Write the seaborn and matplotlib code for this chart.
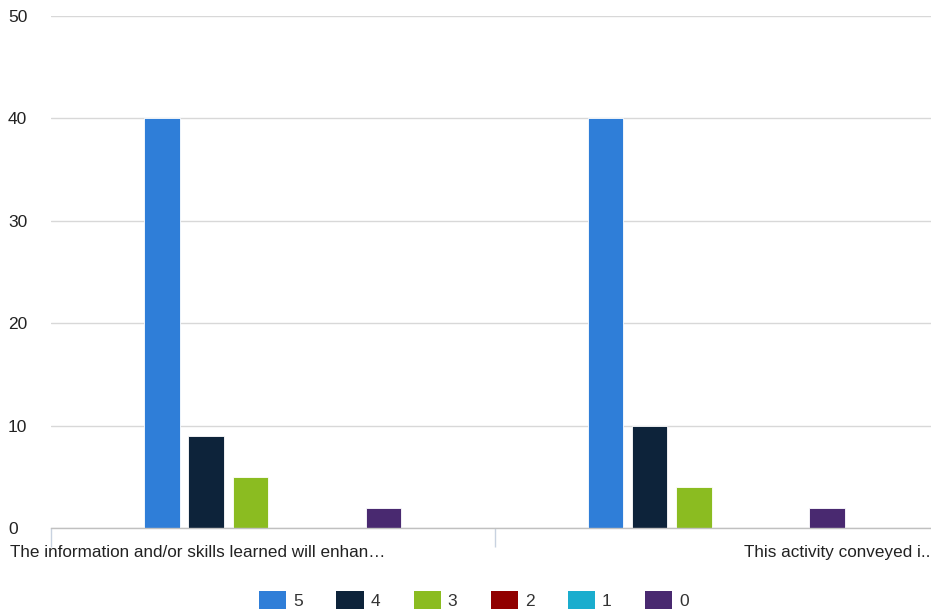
import matplotlib
matplotlib.use("Agg")
import matplotlib.pyplot as plt
import seaborn as sns
import pandas as pd
from matplotlib.patches import Patch

# Survey responses per rating score for each statement
categories = [
    "The information and/or skills learned will enhan\u2026",
    "This activity conveyed i..",
]
scores = ["5", "4", "3", "2", "1", "0"]
counts_q1 = [40, 9, 5, 0, 0, 2]
counts_q2 = [40, 10, 4, 0, 0, 2]
palette = ["#2f7ed8", "#0d233a", "#8bbc21", "#910000", "#1aadce", "#492970"]
y_ticks = [0, 10, 20, 30, 40, 50]

rows = []
for cat, vals in zip(categories, [counts_q1, counts_q2]):
    for s, v in zip(scores, vals):
        rows.append({"question": cat, "score": s, "count": v})
df = pd.DataFrame(rows)

sns.set_theme(style="white")
plt.rcParams["font.family"] = ["Liberation Sans", "DejaVu Sans"]

W, H = 931, 612
fig = plt.figure(figsize=(W / 100, H / 100), dpi=100)
# plot area runs slightly past the right edge of the canvas
ax_left, ax_right, ax_top, ax_bottom = 51, 938, 16, 528
ax = fig.add_axes([ax_left / W, 1 - ax_bottom / H,
                   (ax_right - ax_left) / W, (ax_bottom - ax_top) / H])

sns.barplot(
    data=df, x="question", y="count", hue="score",
    hue_order=scores, order=categories, palette=palette, saturation=1,
    width=0.6, gap=0.2, errorbar=None, edgecolor="white", linewidth=0.6,
    legend=False, ax=ax,
)

ax.set_xlim(-0.5, 1.5)
ax.set_ylim(0, 50)
ax.set_yticks(y_ticks)
ax.set_yticklabels([str(t) for t in y_ticks])
ax.yaxis.grid(True, color="#d8d8d8", linewidth=1)
ax.set_axisbelow(True)
for sp in ["top", "right", "left"]:
    ax.spines[sp].set_visible(False)
ax.spines["bottom"].set_color("#c0c0c0")
ax.spines["bottom"].set_linewidth(1)
ax.set_xlabel("")
ax.set_ylabel("")

# y tick labels, left aligned near the figure edge
ax.tick_params(axis="y", length=0, labelsize=12.5, labelcolor="#222222", pad=0)
for lab in ax.get_yticklabels():
    lab.set_horizontalalignment("left")
    lab.set_x(-(ax_left - 8) / (ax_right - ax_left))

# category boundary ticks
ax.set_xticks([-0.5, 0.5, 1.5])
ax.set_xticklabels(["", "", ""])
ax.tick_params(axis="x", bottom=True, length=14, width=1, color="#c8d2e0",
               direction="out")

# category labels
fig.text(10 / W, 1 - 545 / H, categories[0], ha="left", va="top",
         fontsize=12.3, color="#222222")
fig.text(930 / W, 1 - 545 / H, categories[1], ha="right", va="top",
         fontsize=12.3, color="#222222")

handles = [Patch(facecolor=c, edgecolor="none") for c in palette]
fig.legend(
    handles, scores, loc="center", bbox_to_anchor=(474 / W, 12 / H),
    ncol=6, frameon=False, fontsize=12.5, handlelength=1.56, handleheight=1.2,
    handletextpad=0.4, columnspacing=1.93, labelcolor="#333333",
    borderpad=0, borderaxespad=0,
)

fig.savefig("out.png", dpi=100)
